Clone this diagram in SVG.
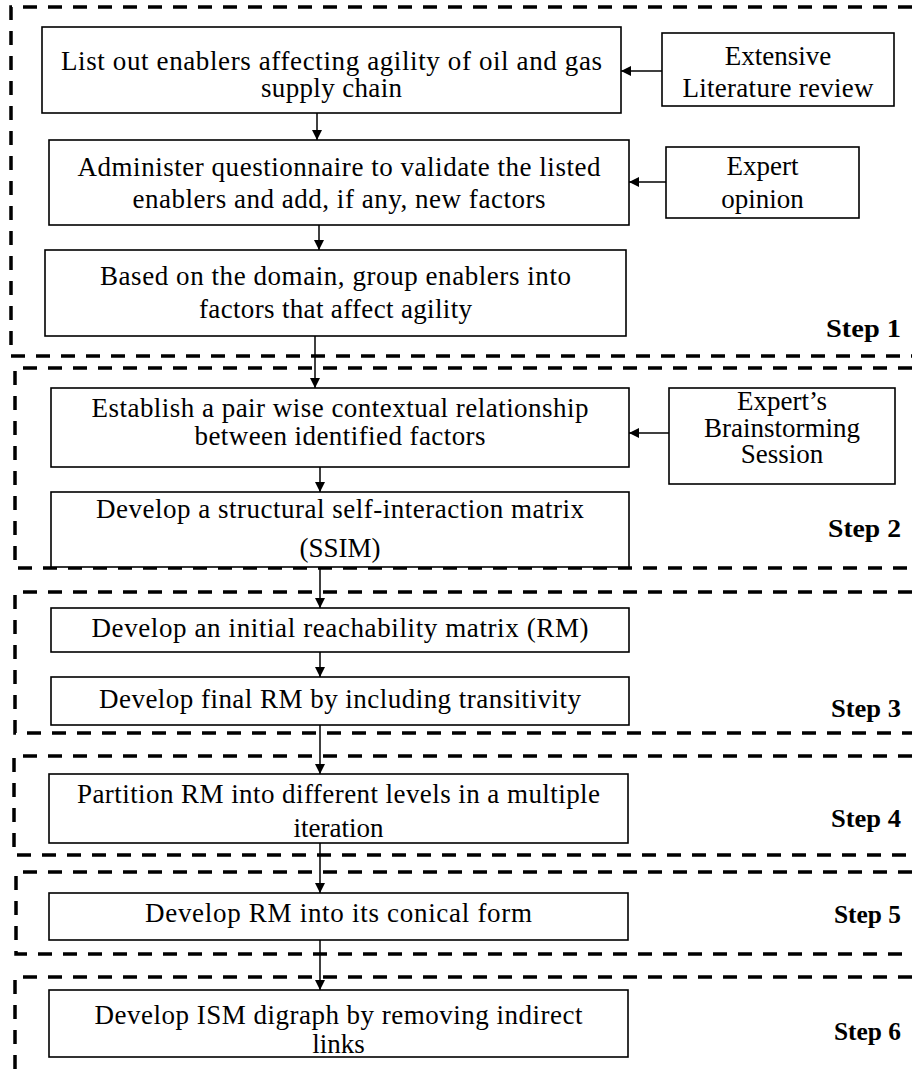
<svg xmlns="http://www.w3.org/2000/svg" width="912" height="1074" viewBox="0 0 912 1074">
<style>
.box{fill:#fff;stroke:#000;stroke-width:1.6}
.dash{fill:none;stroke:#000;stroke-width:3.5;stroke-dasharray:14 11}
.t{font-family:"Liberation Serif","Times New Roman",serif;font-size:27px;fill:#000;text-anchor:middle}
.s{font-family:"Liberation Serif","Times New Roman",serif;font-size:26px;font-weight:bold;fill:#000}
.c{fill:none;stroke:#000;stroke-width:1.5}
</style>
<defs>
<marker id="ah" viewBox="0 0 10 10" refX="10" refY="5" markerWidth="10" markerHeight="10" markerUnits="userSpaceOnUse" orient="auto">
<path d="M0,0 L10,5 L0,10 z" fill="#000"/>
</marker>
</defs>
<rect width="912" height="1074" fill="#fff"/>
<g id="steps">
<path class="dash" d="M912 7 H11 V356 H912"/>
<path class="dash" d="M912 368 H15 V568 H912"/>
<path class="dash" d="M912 592 H15 V733 H912"/>
<path class="dash" d="M912 756 H14 V855 H912"/>
<path class="dash" d="M912 872 H16 V954 H912"/>
<path class="dash" d="M912 977 H15 V1074"/>
<text class="s" x="826" y="337" textLength="75" lengthAdjust="spacingAndGlyphs">Step 1</text>
<text class="s" x="828" y="537" textLength="73" lengthAdjust="spacingAndGlyphs">Step 2</text>
<text class="s" x="831" y="717" textLength="70" lengthAdjust="spacingAndGlyphs">Step 3</text>
<text class="s" x="831" y="827" textLength="70" lengthAdjust="spacingAndGlyphs">Step 4</text>
<text class="s" x="834" y="923" textLength="67" lengthAdjust="spacingAndGlyphs">Step 5</text>
<text class="s" x="834" y="1040" textLength="67" lengthAdjust="spacingAndGlyphs">Step 6</text>
</g>
<g id="connectors">
<line class="c" x1="662" y1="71" x2="621" y2="71" marker-end="url(#ah)"/>
<line class="c" x1="666" y1="182" x2="629" y2="182" marker-end="url(#ah)"/>
<line class="c" x1="669" y1="433" x2="629" y2="433" marker-end="url(#ah)"/>
<line class="c" x1="317" y1="113" x2="317" y2="140" marker-end="url(#ah)"/>
<line class="c" x1="319" y1="225" x2="319" y2="250" marker-end="url(#ah)"/>
<line class="c" x1="315" y1="336" x2="315" y2="388" marker-end="url(#ah)"/>
<line class="c" x1="320" y1="467" x2="320" y2="492" marker-end="url(#ah)"/>
<line class="c" x1="320" y1="567" x2="320" y2="608" marker-end="url(#ah)"/>
<line class="c" x1="320" y1="652" x2="320" y2="677" marker-end="url(#ah)"/>
<line class="c" x1="320" y1="725" x2="320" y2="774" marker-end="url(#ah)"/>
<line class="c" x1="320" y1="843" x2="320" y2="893" marker-end="url(#ah)"/>
<line class="c" x1="320" y1="940" x2="320" y2="990" marker-end="url(#ah)"/>
</g>
<g id="n1">
<rect class="box" x="42" y="27" width="579" height="86"/>
<text class="t" x="331.5" y="70" textLength="541" lengthAdjust="spacing">List out enablers affecting agility of oil and gas</text>
<text class="t" x="331.5" y="97" textLength="141" lengthAdjust="spacing">supply chain</text>
</g>
<g id="lit">
<rect class="box" x="662" y="33" width="232" height="73"/>
<text class="t" x="778" y="65">Extensive</text>
<text class="t" x="778" y="97" textLength="191" lengthAdjust="spacing">Literature review</text>
</g>
<g id="n2">
<rect class="box" x="49" y="140" width="580" height="85"/>
<text class="t" x="339" y="176" textLength="523" lengthAdjust="spacing">Administer questionnaire to validate the listed</text>
<text class="t" x="339" y="208" textLength="413" lengthAdjust="spacing">enablers and add, if any, new factors</text>
</g>
<g id="exp">
<rect class="box" x="666" y="147" width="193" height="71"/>
<text class="t" x="762.5" y="175">Expert</text>
<text class="t" x="762.5" y="208">opinion</text>
</g>
<g id="n3">
<rect class="box" x="45" y="250" width="581" height="86"/>
<text class="t" x="335.5" y="285" textLength="471" lengthAdjust="spacing">Based on the domain, group enablers into</text>
<text class="t" x="335.5" y="318" textLength="273" lengthAdjust="spacing">factors that affect agility</text>
</g>
<g id="n4">
<rect class="box" x="51" y="388" width="578" height="79"/>
<text class="t" x="340" y="417" textLength="497" lengthAdjust="spacing">Establish a pair wise contextual relationship</text>
<text class="t" x="340" y="445" textLength="291" lengthAdjust="spacing">between identified factors</text>
</g>
<g id="brain">
<rect class="box" x="669" y="388" width="226" height="96"/>
<text class="t" x="782" y="410">Expert’s</text>
<text class="t" x="782" y="437">Brainstorming</text>
<text class="t" x="782" y="463">Session</text>
</g>
<g id="n5">
<rect class="box" x="51" y="492" width="578" height="75"/>
<text class="t" x="340" y="518" textLength="488" lengthAdjust="spacing">Develop a structural self-interaction matrix</text>
<text class="t" x="340" y="557">(SSIM)</text>
</g>
<g id="n6">
<rect class="box" x="51" y="608" width="578" height="44"/>
<text class="t" x="340" y="637" textLength="497" lengthAdjust="spacing">Develop an initial reachability matrix (RM)</text>
</g>
<g id="n7">
<rect class="box" x="51" y="677" width="578" height="48"/>
<text class="t" x="340" y="708" textLength="482" lengthAdjust="spacing">Develop final RM by including transitivity</text>
</g>
<g id="n8">
<rect class="box" x="49" y="774" width="579" height="69"/>
<text class="t" x="338.5" y="803" textLength="523" lengthAdjust="spacing">Partition RM into different levels in a multiple</text>
<text class="t" x="338.5" y="837">iteration</text>
</g>
<g id="n9">
<rect class="box" x="49" y="893" width="579" height="47"/>
<text class="t" x="338.5" y="922" textLength="387" lengthAdjust="spacing">Develop RM into its conical form</text>
</g>
<g id="n10">
<rect class="box" x="49" y="990" width="579" height="67"/>
<text class="t" x="338.5" y="1024" textLength="488" lengthAdjust="spacing">Develop ISM digraph by removing indirect</text>
<text class="t" x="338.5" y="1053">links</text>
</g>
</svg>
